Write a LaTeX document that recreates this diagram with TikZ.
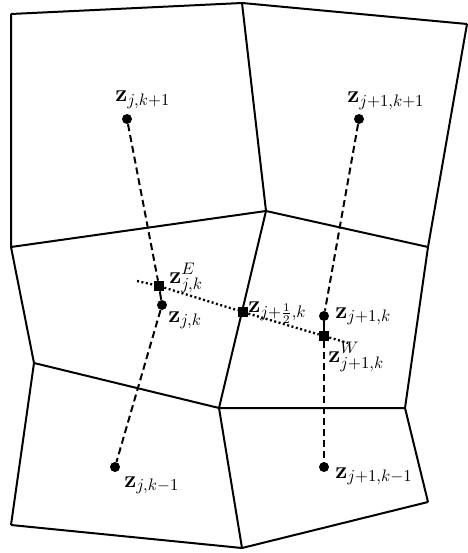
\documentclass[tikz,border=0pt]{standalone}
\usepackage{amsmath}
\begin{document}
\begin{tikzpicture}[x=0.6pt,y=-0.6pt,
  mesh/.style={line width=1.2pt, line join=miter},
  dashline/.style={line width=1.2pt, dash pattern=on 4.2pt off 2.4pt},
  dotline/.style={line width=1.4pt, dash pattern=on 1.2pt off 1.5pt},
  cdot/.style={circle, fill=black, inner sep=0pt, minimum size=6pt},
  sqdot/.style={rectangle, fill=black, inner sep=0pt, minimum size=6pt},
  lab/.style={inner sep=0pt, anchor=base west, font=\Large}]
\useasboundingbox (0,0) rectangle (468,553);
% mesh vertices
\coordinate (a1) at (11,14);
\coordinate (a2) at (242,3);
\coordinate (a3) at (467,24);
\coordinate (b1) at (11,247);
\coordinate (b2) at (266,211);
\coordinate (b3) at (428,247);
\coordinate (c1) at (34,363);
\coordinate (c2) at (219,408);
\coordinate (c3) at (405,408);
\coordinate (d1) at (11,525);
\coordinate (d2) at (242,548);
\coordinate (d3) at (428,502);
% mesh edges
\draw[mesh] (a1) -- (a2) -- (a3);
\draw[mesh] (b1) -- (b2) -- (b3);
\draw[mesh] (c1) -- (c2) -- (c3);
\draw[mesh] (d1) -- (d2) -- (d3);
\draw[mesh] (a1) -- (b1) -- (c1) -- (d1);
\draw[mesh] (a2) -- (b2) -- (c2) -- (d2);
\draw[mesh] (a3) -- (b3) -- (c3) -- (d3);
% points
\node[cdot] (zjk1) at (127,119) {};
\node[cdot] (zj1k1) at (359,119) {};
\node[cdot] (zjk) at (162,305) {};
\node[cdot] (zj1k) at (324,316) {};
\node[cdot] (zjkm) at (115,467) {};
\node[cdot] (zj1km) at (324,467) {};
\node[sqdot] (zE) at (159,286) {};
\node[sqdot] (zh) at (243,312) {};
\node[sqdot] (zW) at (324,336) {};
\coordinate (dl) at (137,281);
\coordinate (dr) at (348,343);
% connectors
\draw[dashline] (zjk1) -- (zE);
\draw[mesh] (zE) -- (zjk);
\draw[dashline] (zjk) -- (zjkm);
\draw[dashline] (zj1k1) -- (zj1k);
\draw[mesh] (zj1k) -- (zW);
\draw[dashline] (zW) -- (zj1km);
\draw[dotline] (dl) -- (zE) -- (zh) -- (zW) -- (dr);
% labels
\node[lab] (lzjk1) at (115,102) {$\mathbf{z}_{j,k+1}$};
\node[lab] (lzj1k1) at (347,103) {$\mathbf{z}_{j+1,k+1}$};
\node[lab] (lzE) at (169,283) {$\mathbf{z}^{E}_{j,k}$};
\node[lab] (lzjk) at (168,322) {$\mathbf{z}_{j,k}$};
\node[lab] (lzh) at (248,312) {$\mathbf{z}_{j+\frac{1}{2},k}$};
\node[lab] (lzj1k) at (335,318) {$\mathbf{z}_{j+1,k}$};
\node[lab] (lzW) at (328,362) {$\mathbf{z}^{W}_{j+1,k}$};
\node[lab] (lzjkm) at (124,487) {$\mathbf{z}_{j,k-1}$};
\node[lab] (lzj1km) at (335,478) {$\mathbf{z}_{j+1,k-1}$};
\end{tikzpicture}
\end{document}
